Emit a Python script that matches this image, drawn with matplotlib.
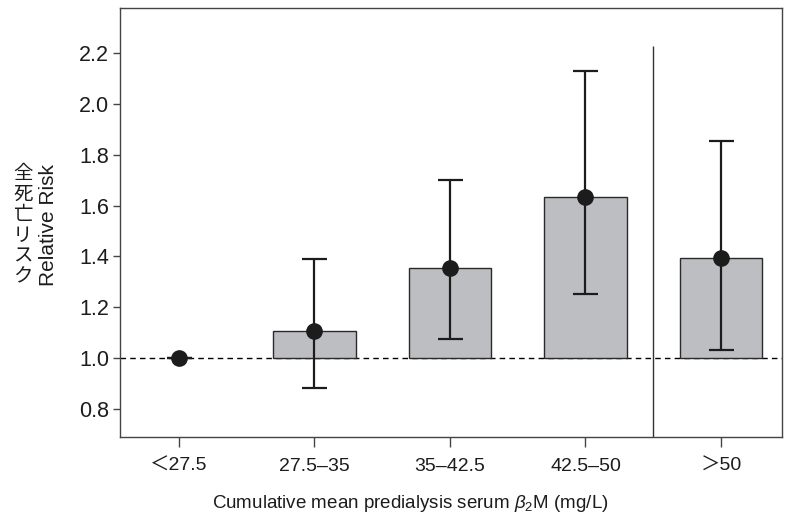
import numpy as np
import matplotlib
matplotlib.use("Agg")
import matplotlib.pyplot as plt

plt.rcParams['font.family'] = ['Liberation Sans', 'Noto Sans CJK JP', 'DejaVu Sans']
plt.rcParams['mathtext.fontset'] = 'custom'
plt.rcParams['mathtext.it'] = 'Liberation Sans:italic'
plt.rcParams['mathtext.rm'] = 'Liberation Sans'

categories = ['＜27.5', '27.5–35', '35–42.5', '42.5–50', '＞50']
rr = [1.0, 1.107, 1.353, 1.634, 1.394]
ci_low = [1.0, 0.882, 1.074, 1.252, 1.034]
ci_high = [1.0, 1.39, 1.70, 2.131, 1.855]
yticks = [0.8, 1.0, 1.2, 1.4, 1.6, 1.8, 2.0, 2.2]
split_x = 3.5
split_top = 2.228

x = np.arange(len(categories))
rr = np.array(rr)
lo = rr - np.array(ci_low)
hi = np.array(ci_high) - rr

fig = plt.figure(figsize=(7.87, 5.15), dpi=100)
ax = fig.add_axes([0.1525, 0.1515, 0.8411, 0.833])

ax.axhline(1.0, color='black', lw=1.0, ls=(0, (4, 3)), zorder=1)
ax.bar(x[1:], rr[1:] - 1.0, bottom=1.0, width=0.61, color='#bdbec2',
       edgecolor='#2a2a2a', linewidth=1.0, zorder=2)
ax.errorbar(x, rr, yerr=[lo, hi], fmt='o', color='#1c1c1c', ms=11,
            elinewidth=1.6, capsize=9, capthick=1.6, zorder=3)
ax.vlines(split_x, 0.69, split_top, color='#333333', lw=1.0, zorder=1)

ax.set_xlim(-0.435, 4.45)
ax.set_ylim(0.69, 2.377)
ax.set_xticks(x)
ax.set_xticklabels(categories)
ax.set_yticks(yticks)
ax.set_yticklabels([f'{v:.1f}' for v in yticks])

for s in ax.spines.values():
    s.set_color('#444444')
    s.set_linewidth(1.0)
ax.tick_params(axis='both', color='#444444', colors='#1c1c1c')
ax.tick_params(axis='y', labelsize=15.5, length=5, width=1.0, pad=3)
ax.tick_params(axis='x', labelsize=14, length=7, width=1.0, pad=8)

ax.set_xlabel(r'Cumulative mean predialysis serum $\beta_2$M (mg/L)',
              fontsize=13.5, color='#1c1c1c')
ax.xaxis.set_label_coords(0.438, -0.13)
fig.text(0.061, 0.563, 'Relative Risk', rotation=90, fontsize=15,
         ha='center', va='center', color='#1c1c1c')
fig.text(0.029, 0.563, '\n'.join('全死亡リスク'), fontsize=14,
         ha='center', va='center', linespacing=0.98, color='#1c1c1c',
         family=['Noto Sans CJK JP', 'DejaVu Sans'])

fig.savefig('out.png', dpi=100)
